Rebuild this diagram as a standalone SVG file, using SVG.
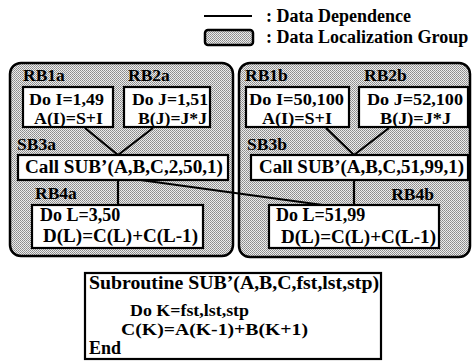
<svg xmlns="http://www.w3.org/2000/svg" width="472" height="361" viewBox="0 0 472 361">
<defs>
<pattern id="dots" width="2" height="2" patternUnits="userSpaceOnUse">
<rect width="2" height="2" fill="#ececec"/>
<rect width="1" height="1" fill="#8a8a8a"/>
<rect x="1" y="1" width="1" height="1" fill="#9a9a9a"/>
</pattern>
</defs>
<style>
text{font-family:"Liberation Serif","Times New Roman",serif;font-weight:bold;font-size:18px;fill:#000}
.t17{font-size:17px}
.grp{fill:url(#dots);stroke:#000;stroke-width:2.5}
.box{fill:#fff;stroke:#000;stroke-width:2.2}
.lbl{font-size:17.5px}
.edge{stroke:#000;stroke-width:2.2;fill:none}
</style>
<rect width="472" height="361" fill="#fff"/>
<g id="legend">
<line x1="204" y1="16" x2="252" y2="16" class="edge"/>
<rect x="205" y="30" width="48" height="15" rx="3" class="grp"/>
<text x="266" y="22">: Data Dependence</text>
<text x="266" y="43">: Data Localization Group</text>
</g>
<g id="groupA">
<rect x="10" y="63" width="223" height="193" rx="11" class="grp"/>
</g>
<g id="groupB">
<rect x="239" y="63" width="231" height="194" rx="11" class="grp"/>
</g>
<g id="connectors">
<line x1="85" y1="128" x2="118" y2="155" class="edge"/>
<line x1="153" y1="128" x2="118" y2="155" class="edge"/>
<line x1="118" y1="180" x2="118" y2="205" class="edge"/>
<line x1="326" y1="128" x2="354" y2="155" class="edge"/>
<line x1="389" y1="128" x2="354" y2="155" class="edge"/>
<line x1="354" y1="180" x2="354" y2="205" class="edge"/>
<line x1="133" y1="179" x2="330" y2="206" class="edge"/>
</g>
<g id="RB1a">
<text x="23" y="81" class="lbl">RB1a</text>
<rect x="23" y="87" width="90" height="40" class="box"/>
<text x="29" y="105" class="t17" textLength="75" lengthAdjust="spacingAndGlyphs">Do I=1,49</text>
<text x="34" y="124" class="t17" textLength="69" lengthAdjust="spacingAndGlyphs">A(I)=S+I</text>
</g>
<g id="RB2a">
<text x="128" y="81" class="lbl">RB2a</text>
<rect x="124" y="87" width="86" height="40" class="box"/>
<text x="132" y="105" class="t17" textLength="76" lengthAdjust="spacingAndGlyphs">Do J=1,51</text>
<text x="138" y="124" class="t17" textLength="69" lengthAdjust="spacingAndGlyphs">B(J)=J*J</text>
</g>
<g id="SB3a">
<text x="17" y="150" class="lbl">SB3a</text>
<rect x="18" y="155" width="210" height="25" class="box"/>
<text x="25" y="173" textLength="198" lengthAdjust="spacingAndGlyphs">Call SUB’(A,B,C,2,50,1)</text>
</g>
<g id="RB4a">
<text x="35" y="199" class="lbl">RB4a</text>
<rect x="32" y="205" width="171" height="43" class="box"/>
<text x="40" y="221">Do L=3,50</text>
<text x="43" y="242" textLength="155" lengthAdjust="spacingAndGlyphs">D(L)=C(L)+C(L-1)</text>
</g>
<g id="RB1b">
<text x="245" y="81" class="lbl">RB1b</text>
<rect x="246" y="87" width="103" height="40" class="box"/>
<text x="249" y="105" class="t17" textLength="95" lengthAdjust="spacingAndGlyphs">Do I=50,100</text>
<text x="262" y="124" class="t17" textLength="70" lengthAdjust="spacingAndGlyphs">A(I)=S+I</text>
</g>
<g id="RB2b">
<text x="364" y="81" class="lbl">RB2b</text>
<rect x="359" y="87" width="109" height="40" class="box"/>
<text x="367" y="105" class="t17" textLength="96" lengthAdjust="spacingAndGlyphs">Do J=52,100</text>
<text x="380" y="124" class="t17" textLength="71" lengthAdjust="spacingAndGlyphs">B(J)=J*J</text>
</g>
<g id="SB3b">
<text x="247" y="150" class="lbl">SB3b</text>
<rect x="251" y="155" width="217" height="25" class="box"/>
<text x="259" y="173" textLength="205" lengthAdjust="spacingAndGlyphs">Call SUB’(A,B,C,51,99,1)</text>
</g>
<g id="RB4b">
<text x="434" y="200" class="lbl" text-anchor="end">RB4b</text>
<rect x="269" y="205" width="170" height="43" class="box"/>
<text x="276" y="221">Do L=51,99</text>
<text x="281" y="243" textLength="155" lengthAdjust="spacingAndGlyphs">D(L)=C(L)+C(L-1)</text>
</g>
<g id="subroutine">
<rect x="85" y="273" width="296" height="86" class="box"/>
<text x="89" y="289" textLength="290" lengthAdjust="spacingAndGlyphs">Subroutine SUB’(A,B,C,fst,lst,stp)</text>
<text x="130" y="316" class="t17" textLength="119" lengthAdjust="spacingAndGlyphs">Do K=fst,lst,stp</text>
<text x="121" y="335" class="t17" textLength="187" lengthAdjust="spacingAndGlyphs">C(K)=A(K-1)+B(K+1)</text>
<text x="89" y="354">End</text>
</g>
</svg>
